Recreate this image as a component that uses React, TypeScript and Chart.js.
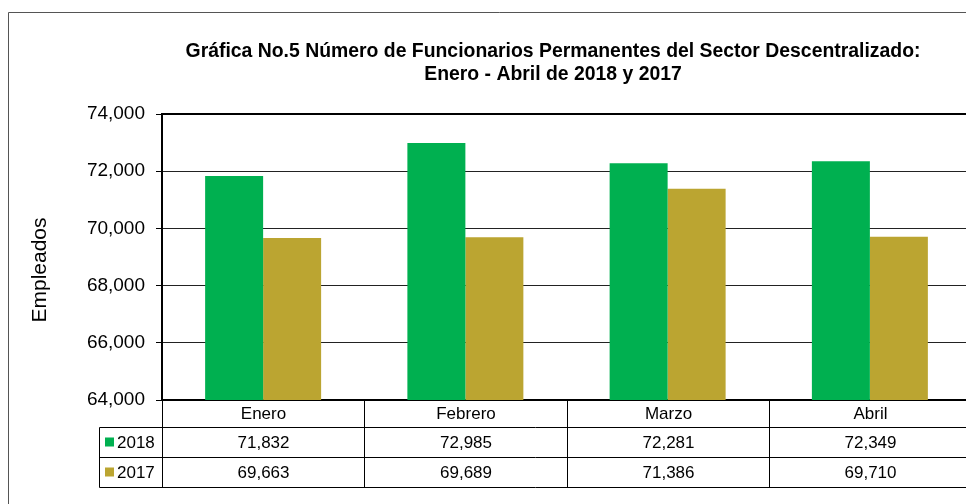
import React, { useEffect, useRef } from "react";
import { Chart, registerables } from "chart.js";

Chart.register(...registerables);

const categories = ["Enero", "Febrero", "Marzo", "Abril"];
const series2018 = [71832, 72985, 72281, 72349];
const series2017 = [69663, 69689, 71386, 69710];
const seriesLabels = ["2018", "2017"];
const titleLines = [
  "Gráfica No.5 Número de Funcionarios Permanentes del Sector Descentralizado:",
  "Enero - Abril de 2018 y 2017",
];
const yAxisTitle = "Empleados";
const yMin = 64000;
const yMax = 74000;
const yStep = 2000;

const GREEN = "#00B050";
const GOLD = "#BBA531";
const FONT = "'Liberation Sans', Arial, sans-serif";

const fmt = (v: number) => v.toLocaleString("en-US");

const decorPlugin = {
  id: "decor",
  beforeDraw(chart: any) {
    const { ctx, width, height } = chart;
    ctx.save();
    ctx.fillStyle = "#fff";
    ctx.fillRect(0, 0, width, height);
    ctx.restore();
  },
  afterDraw(chart: any) {
    const { ctx, chartArea: ca, scales } = chart;
    const x = scales.x;
    ctx.save();

    // outer frame
    ctx.strokeStyle = "#555";
    ctx.lineWidth = 1;
    ctx.beginPath();
    ctx.moveTo(8.5, chart.height + 5);
    ctx.lineTo(8.5, 12.5);
    ctx.lineTo(chart.width + 5, 12.5);
    ctx.stroke();

    // plot area top & right borders
    ctx.strokeStyle = "#000";
    ctx.lineWidth = 2;
    ctx.beginPath();
    ctx.moveTo(ca.left, ca.top);
    ctx.lineTo(ca.right, ca.top);
    ctx.lineTo(ca.right, ca.bottom);
    ctx.stroke();

    // title
    ctx.fillStyle = "#000";
    ctx.textAlign = "center";
    ctx.textBaseline = "alphabetic";
    ctx.font = `bold 19.4px ${FONT}`;
    ctx.fillText(titleLines[0], 553, 57);
    ctx.fillText(titleLines[1], 553, 80);

    // y axis title
    ctx.save();
    ctx.translate(40, 270);
    ctx.rotate(-Math.PI / 2);
    ctx.font = `21px ${FONT}`;
    ctx.textBaseline = "middle";
    ctx.fillText(yAxisTitle, 0, 0);
    ctx.restore();

    // data table
    const n = categories.length;
    const catW = (ca.right - ca.left) / n;
    const edges: number[] = [];
    for (let i = 0; i <= n; i++) {
      const px = i < n ? x.getPixelForValue(i) - catW / 2 : x.getPixelForValue(n - 1) + catW / 2;
      edges.push(Math.round(px) + 0.5);
    }
    const top = ca.bottom;
    const headerH = 27;
    const rowH = 30;
    const legendLeft = 99.5;
    const rowTops = [top + headerH, top + headerH + rowH, top + headerH + 2 * rowH];
    const tableBottom = Math.round(rowTops[2]) + 0.5;

    ctx.strokeStyle = "#000";
    ctx.lineWidth = 1;
    ctx.beginPath();
    edges.forEach((e) => {
      ctx.moveTo(e, top);
      ctx.lineTo(e, tableBottom);
    });
    ctx.moveTo(legendLeft, Math.round(rowTops[0]) + 0.5);
    ctx.lineTo(legendLeft, tableBottom);
    rowTops.forEach((r) => {
      const yy = Math.round(r) + 0.5;
      ctx.moveTo(legendLeft, yy);
      ctx.lineTo(edges[n], yy);
    });
    ctx.stroke();

    ctx.font = `17px ${FONT}`;
    ctx.textBaseline = "middle";
    ctx.textAlign = "center";
    categories.forEach((c, i) => {
      ctx.fillText(c, (edges[i] + edges[i + 1]) / 2, top + headerH / 2 + 1);
    });
    const rows = [series2018, series2017];
    const colors = [GREEN, GOLD];
    rows.forEach((vals, r) => {
      const cy = rowTops[r] + rowH / 2;
      ctx.textAlign = "center";
      vals.forEach((v, i) => {
        ctx.fillText(fmt(v), (edges[i] + edges[i + 1]) / 2, cy + 1);
      });
      ctx.fillStyle = colors[r];
      ctx.fillRect(105, cy - 4.5, 9, 9);
      ctx.fillStyle = "#000";
      ctx.textAlign = "left";
      ctx.fillText(seriesLabels[r], 117, cy + 1);
    });

    ctx.restore();
  },
};

export default function App() {
  const canvasRef = useRef<HTMLCanvasElement | null>(null);

  useEffect(() => {
    if (!canvasRef.current) return;
    const chart = new Chart(canvasRef.current, {
      type: "bar",
      data: {
        labels: categories,
        datasets: [
          {
            label: seriesLabels[0],
            data: series2018,
            backgroundColor: GREEN,
            borderWidth: 0,
            barPercentage: 1,
            categoryPercentage: 0.5735,
          },
          {
            label: seriesLabels[1],
            data: series2017,
            backgroundColor: GOLD,
            borderWidth: 0,
            barPercentage: 1,
            categoryPercentage: 0.5735,
          },
        ],
      },
      options: {
        responsive: false,
        animation: false,
        devicePixelRatio: 1,
        layout: { padding: { left: 0, top: 114, right: 19, bottom: 104 } },
        plugins: {
          legend: { display: false },
          tooltip: { enabled: false },
          title: { display: false },
        },
        scales: {
          x: {
            grid: { display: false, drawTicks: false },
            ticks: { display: false },
            border: { display: true, color: "#000", width: 2 },
            afterFit: (s: any) => {
              s.height = 0;
            },
          },
          y: {
            min: yMin,
            max: yMax,
            ticks: {
              stepSize: yStep,
              color: "#000",
              padding: 11,
              font: { family: FONT, size: 19 },
              callback: (v: any) => fmt(Number(v)),
            },
            grid: {
              color: "#222",
              lineWidth: 1,
              tickLength: 6,
              tickColor: "#000",
              tickBorderDash: [],
            },
            border: { display: true, color: "#000", width: 2 },
            afterFit: (s: any) => {
              s.width = 162;
            },
          },
        },
      },
      plugins: [decorPlugin],
    } as any);
    return () => chart.destroy();
  }, []);

  return (
    <div style={{ position: "absolute", left: 0, top: 0, width: 966, height: 504, overflow: "hidden" }}>
      <canvas ref={canvasRef} width={990} height={504} style={{ display: "block" }} />
    </div>
  );
}
